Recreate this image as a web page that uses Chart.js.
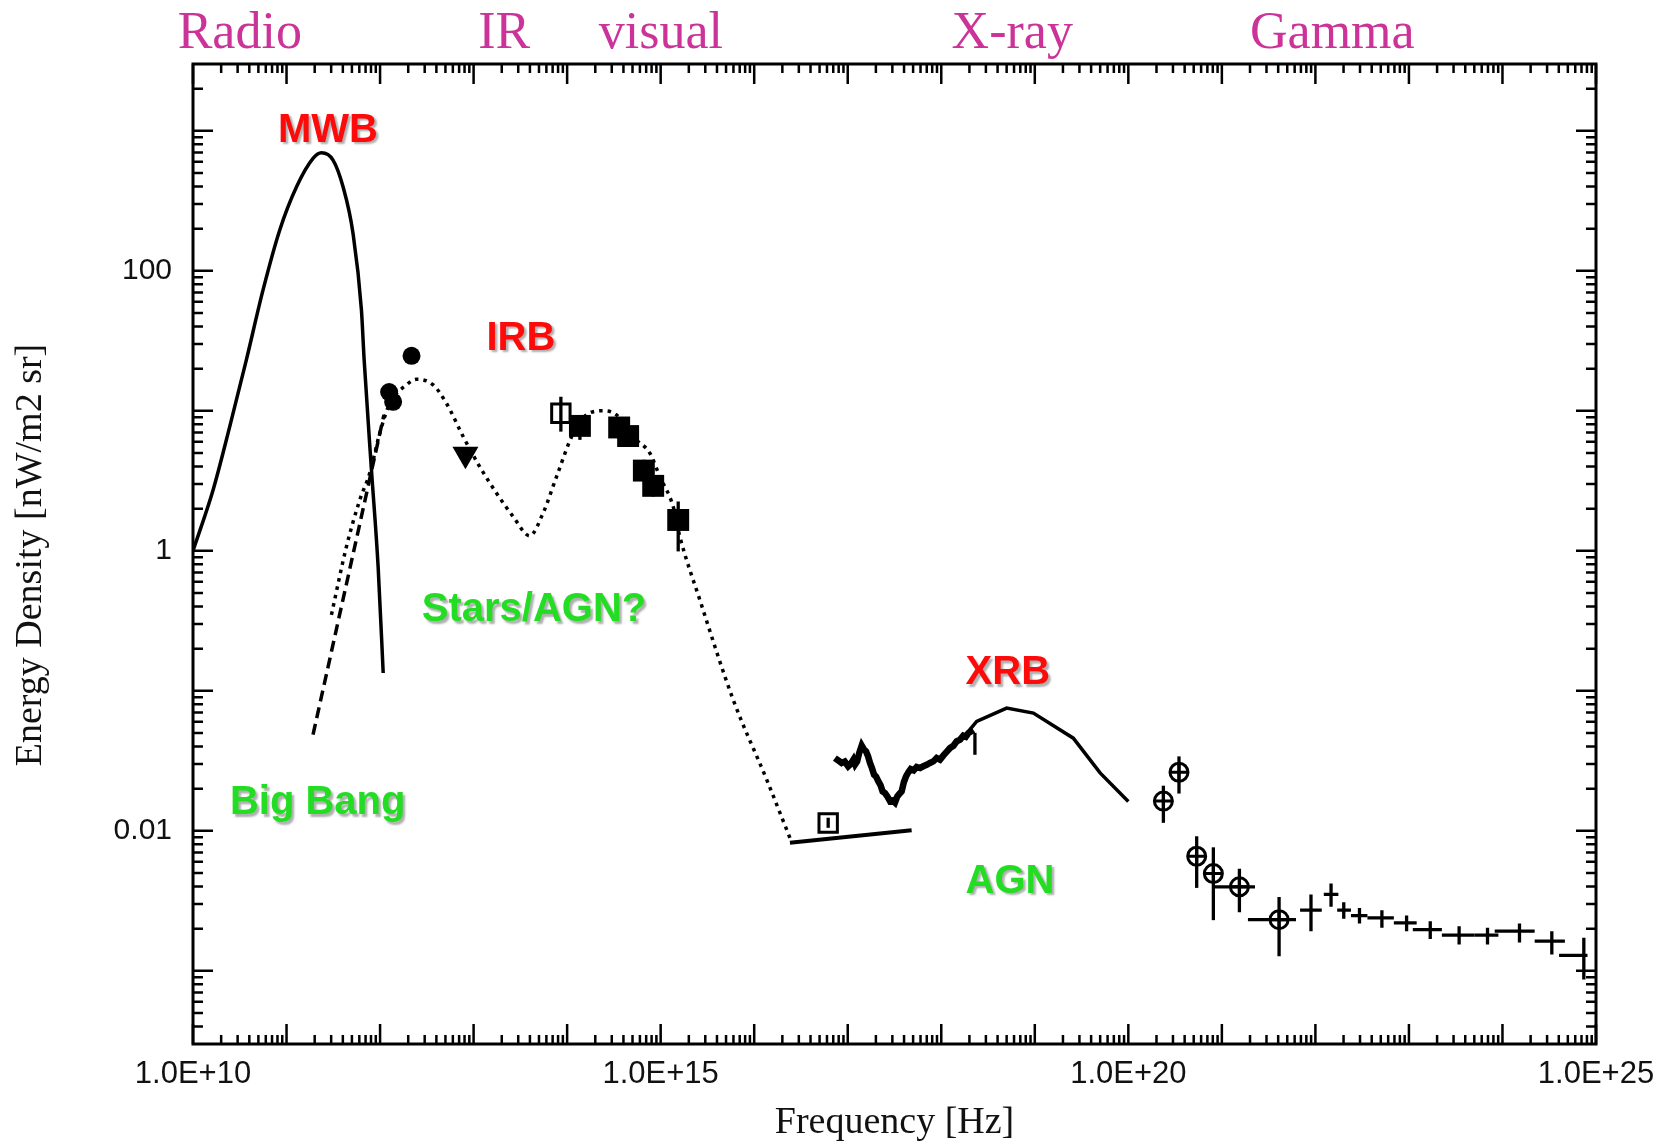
<!DOCTYPE html>
<html>
<head>
<meta charset="utf-8">
<title>Extragalactic background spectrum</title>
<script src="https://cdn.jsdelivr.net/npm/chart.js@4.4.1/dist/chart.umd.min.js"></script>
<style>
  html, body { margin: 0; padding: 0; background: #fff; }
  #wrap { width: 1671px; height: 1144px; position: relative; }
</style>
</head>
<body>
<div id="wrap"><canvas id="sed"></canvas></div>
<script>
// Frequencies in Hz, energy densities in nW / m^2 / sr.

// Microwave background (MWB)
const mwbFreq = [1.0e10, 1.64e10, 2.47e10, 3.72e10, 5.61e10, 8.45e10, 1.28e11, 1.92e11, 2.36e11, 3.14e11, 4.02e11, 5.14e11, 6.32e11, 6.76e11, 8.09e11, 9.53e11, 1.08e12];
const mwbE    = [1.0, 2.72, 7.7, 23.1, 73, 195, 398, 635, 697, 618, 398, 185, 52.5, 23, 3.78, 0.773, 0.134];

// Big Bang extrapolation (dashed)
const bigBangFreq = [1.92e11, 1.10e12];
const bigBangE    = [0.0486, 9.35];

// Infrared / optical background model (dotted)
const irbModelFreq = [3.02e11, 4.37e11, 6.07e11, 7.76e11, 9.93e11, 1.27e12, 1.91e12, 2.45e12, 3.69e12, 5.13e12, 7.73e12, 1.16e13, 1.76e13, 2.64e13, 3.99e13, 5.53e13, 7.71e13, 1.16e14, 1.61e14, 2.43e14, 3.37e14, 5.08e14, 7.66e14, 9.79e14, 1.36e15, 1.60e15, 2.62e15, 5.96e15, 1.36e16, 2.41e16];
const irbModelE    = [0.349, 1.07, 2.31, 3.59, 6.92, 11.3, 15.3, 16.8, 15.3, 11.3, 6.55, 4.0, 2.58, 1.76, 1.28, 1.86, 3.39, 6.9, 9.35, 10.0, 9.35, 6.5, 4.98, 3.39, 2.07, 1.27, 0.447, 0.0863, 0.0232, 0.00889];

// Far-infrared measurements (filled circles)
const firFreq = [1.25e12, 1.38e12, 2.17e12];
const firE    = [13.6, 11.6, 24.7];

// Upper limit (triangle)
const limitFreq = [8.18e12];
const limitE    = [4.9];

// Open squares with error bars
const openSqFreq = [8.57e13, 6.18e16];
const openSqE    = [9.6, 0.01138];
const openSqLo   = [7.1, 0.0105];
const openSqHi   = [12.6, 0.0124];

// Near-infrared / optical measurements (filled squares)
const nirFreq = [1.37e14, 3.6e14, 4.49e14, 6.61e14, 8.32e14, 1.54e15];
const nirE    = [7.8, 7.6, 6.6, 3.74, 2.91, 1.66];
const nirLo   = [6.2, 7.6, 6.6, 3.13, 2.44, 0.99];
const nirHi   = [9.1, 7.6, 6.6, 4.47, 3.39, 2.25];

// AGN contribution in the UV (solid segment)
const agnFreq = [2.41e16, 4.82e17];
const agnE    = [0.0082, 0.0101];

// Soft X-ray background data
const sxrFreq = [7.29e16, 7.9e16, 8.61e16, 9.3e16, 1.01e17, 1.08e17, 1.15e17, 1.20e17, 1.26e17, 1.33e17, 1.41e17, 1.49e17, 1.57e17, 1.65e17, 1.73e17, 1.82e17, 1.91e17, 2.01e17, 2.12e17, 2.24e17, 2.36e17, 2.50e17, 2.65e17, 2.83e17, 3.02e17, 3.20e17, 3.39e17, 3.58e17, 3.77e17, 3.98e17, 4.20e17, 4.45e17, 4.71e17, 5.07e17, 5.46e17, 5.94e17, 6.43e17, 6.98e17, 7.57e17, 8.22e17, 8.93e17, 9.70e17, 1.05e18, 1.14e18, 1.24e18, 1.35e18, 1.46e18, 1.59e18, 1.72e18, 1.83e18, 1.95e18, 2.07e18, 2.20e18];
const sxrE    = [0.0331, 0.0318, 0.0305, 0.0312, 0.0289, 0.0301, 0.0322, 0.0298, 0.0313, 0.0362, 0.0406, 0.0381, 0.0369, 0.0340, 0.0305, 0.0279, 0.0252, 0.0244, 0.0226, 0.0212, 0.0191, 0.0186, 0.0176, 0.0163, 0.0165, 0.0159, 0.0176, 0.0184, 0.0191, 0.0222, 0.0245, 0.0262, 0.0276, 0.0270, 0.0286, 0.0281, 0.0289, 0.0296, 0.0305, 0.0313, 0.0331, 0.0322, 0.0344, 0.0366, 0.0390, 0.0405, 0.0435, 0.0448, 0.0478, 0.0470, 0.0499, 0.0512, 0.0527];
const sxrBarFreq = [2.29e18];
const sxrBarE    = [0.0501];
const sxrBarLo   = [0.0349];
const sxrBarHi   = [0.0501];

// X-ray background spectrum (XRB)
const xrbFreq = [1.95e18, 2.39e18, 5.0e18, 9.66e18, 2.58e19, 4.99e19, 1.0e20];
const xrbE    = [0.0513, 0.0604, 0.0753, 0.0693, 0.0459, 0.0259, 0.0162];

// MeV gamma rays (circled points)
const mevFreq   = [2.37e20, 3.48e20, 5.38e20, 8.11e20, 1.54e21, 4.09e21];
const mevE      = [0.0163, 0.0262, 0.00658, 0.00495, 0.00398, 0.00232];
const mevLo     = [0.0114, 0.01845, 0.00391, 0.00230, 0.00262, 0.00127];
const mevHi     = [0.0210, 0.0340, 0.00914, 0.00762, 0.00535, 0.00337];
const mevFreqLo = [2.37e20, 3.48e20, 5.38e20, 8.11e20, 8.1e20, 1.9e21];
const mevFreqHi = [2.37e20, 3.48e20, 5.38e20, 8.11e20, 2.26e21, 6.2e21];

// GeV gamma rays (crosses)
const gevFreq   = [8.97e21, 1.47e22, 2.01e22, 2.96e22, 5.14e22, 9.44e22, 1.69e23, 3.44e23, 6.92e23, 1.52e24, 3.37e24, 7.41e24];
const gevE      = [0.00271, 0.00351, 0.00271, 0.00248, 0.00239, 0.00220, 0.00197, 0.00180, 0.00180, 0.00192, 0.00163, 0.00129];
const gevLo     = [0.00192, 0.00287, 0.00235, 0.00218, 0.00203, 0.00192, 0.00169, 0.00154, 0.00154, 0.00159, 0.00131, 0.000867];
const gevHi     = [0.00351, 0.00421, 0.00309, 0.00281, 0.00271, 0.00248, 0.00226, 0.00208, 0.00203, 0.00218, 0.00192, 0.00172];
const gevFreqLo = [6.86e21, 1.23e22, 1.71e22, 2.40e22, 3.6e22, 6.9e22, 1.10e23, 2.25e23, 5.05e23, 8.26e23, 2.21e24, 4.03e24];
const gevFreqHi = [1.17e22, 1.76e22, 2.40e22, 3.60e22, 6.9e22, 1.21e23, 2.25e23, 5.05e23, 9.04e23, 2.21e24, 4.65e24, 8.11e24];

// Axis ranges and labelled ticks
const freqMin = 1e10, freqMax = 1e25;
const energyMin = 3e-4, energyMax = 3000;
const freqTickLabels = [1e10, 1e15, 1e20, 1e25];
const energyTickLabels = [0.01, 1, 100];

// Spectral band names above the frame, anchored at their left edge
const bandNames = ['Radio', 'IR', 'visual', 'X-ray', 'Gamma'];
const bandFreq  = [6.86e9, 1.12e13, 2.18e14, 1.29e18, 2.0e21];

// Background component names (red) and source names (green)
const componentNames = ['MWB', 'IRB', 'XRB'];
const componentFreq  = [8.11e10, 1.37e13, 1.82e18];
const componentE     = [834, 27.2, 0.111];
const sourceNames = ['Big Bang', 'Stars/AGN?', 'AGN'];
const sourceFreq  = [2.48e10, 2.79e12, 1.82e18];
const sourceE     = [0.0131, 0.313, 0.00361];

// ---------------------------------------------------------------------------
const pairs = (xs, ys) => xs.map((v, i) => ({ x: v, y: ys[i] }));
const ranges = (lo, hi) => lo.map((v, i) => [v, hi[i]]);
const SANS = "'Liberation Sans', Arial, Helvetica, sans-serif";
const SERIF = "'Liberation Serif', 'Times New Roman', Times, serif";
const INK = '#000';

const lineStyle = { showLine: true, pointRadius: 0, pointHoverRadius: 0, borderColor: INK, backgroundColor: INK, fill: false };

const datasets = [
  { label: 'MWB', data: pairs(mwbFreq, mwbE), ...lineStyle, borderWidth: 3.5, cubicInterpolationMode: 'monotone' },
  { label: 'Big Bang', data: pairs(bigBangFreq, bigBangE), ...lineStyle, borderWidth: 3.5, borderDash: [11, 6] },
  { label: 'IRB model', data: pairs(irbModelFreq, irbModelE), ...lineStyle, borderWidth: 3.5, borderDash: [3.5, 5], cubicInterpolationMode: 'monotone' },
  { label: 'FIR', data: pairs(firFreq, firE), pointStyle: 'circle', pointRadius: 9, pointHoverRadius: 9, backgroundColor: INK, borderColor: INK, borderWidth: 0 },
  { label: 'limit', data: pairs(limitFreq, limitE), pointStyle: 'triangle', rotation: 180, pointRadius: 15, pointHoverRadius: 15, backgroundColor: INK, borderColor: INK, borderWidth: 0 },
  { label: 'open', data: pairs(openSqFreq, openSqE), pointStyle: 'rect', pointRadius: 13, pointHoverRadius: 13, backgroundColor: 'rgba(0,0,0,0)', borderColor: INK, borderWidth: 3, yErr: ranges(openSqLo, openSqHi) },
  { label: 'NIR', data: pairs(nirFreq, nirE), pointStyle: 'rect', pointRadius: 15.5, pointHoverRadius: 15.5, backgroundColor: INK, borderColor: INK, borderWidth: 0, yErr: ranges(nirLo, nirHi) },
  { label: 'AGN', data: pairs(agnFreq, agnE), ...lineStyle, borderWidth: 4 },
  { label: 'soft X', data: pairs(sxrFreq, sxrE), ...lineStyle, borderWidth: 6.5, borderJoinStyle: 'miter' },
  { label: 'soft X edge', data: pairs(sxrBarFreq, sxrBarE), pointRadius: 0, pointHoverRadius: 0, yErr: ranges(sxrBarLo, sxrBarHi) },
  { label: 'XRB', data: pairs(xrbFreq, xrbE), ...lineStyle, borderWidth: 3.5 },
  { label: 'MeV', data: pairs(mevFreq, mevE), pointStyle: 'circle', pointRadius: 9, pointHoverRadius: 9, backgroundColor: 'rgba(0,0,0,0)', borderColor: INK, borderWidth: 3, yErr: ranges(mevLo, mevHi), xErr: ranges(mevFreqLo, mevFreqHi) },
  { label: 'MeV cross', data: pairs(mevFreq, mevE), pointStyle: 'cross', pointRadius: 9, pointHoverRadius: 9, borderColor: INK, borderWidth: 3 },
  { label: 'GeV', data: pairs(gevFreq, gevE), pointRadius: 0, pointHoverRadius: 0, yErr: ranges(gevLo, gevHi), xErr: ranges(gevFreqLo, gevFreqHi) }
];

// Error bars for datasets that carry yErr / xErr ranges
const errorBars = {
  id: 'errorBars',
  afterDatasetsDraw(chart) {
    const { ctx, chartArea: a, scales: { x, y } } = chart;
    ctx.save();
    ctx.beginPath();
    ctx.rect(a.left, a.top, a.width, a.height);
    ctx.clip();
    ctx.strokeStyle = INK;
    ctx.lineWidth = 3.3;
    ctx.lineCap = 'butt';
    chart.data.datasets.forEach((ds, i) => {
      const meta = chart.getDatasetMeta(i);
      meta.data.forEach((pt, j) => {
        ctx.beginPath();
        if (ds.yErr) {
          const [lo, hi] = ds.yErr[j];
          ctx.moveTo(pt.x, y.getPixelForValue(lo));
          ctx.lineTo(pt.x, y.getPixelForValue(hi));
        }
        if (ds.xErr) {
          const [lo, hi] = ds.xErr[j];
          if (lo !== hi) {
            ctx.moveTo(x.getPixelForValue(lo), pt.y);
            ctx.lineTo(x.getPixelForValue(hi), pt.y);
          }
        }
        ctx.stroke();
      });
    });
    ctx.restore();
  }
};

// Frame, inward tick marks on all four sides, labels and axis titles
const frameAndText = {
  id: 'frameAndText',
  afterDraw(chart) {
    const { ctx, chartArea: a, scales: { x, y } } = chart;
    const MAJOR = 20, MINOR_X = 9, MINOR_Y = 10;
    ctx.save();
    ctx.strokeStyle = INK;
    ctx.lineWidth = 2.5;
    ctx.beginPath();
    for (let d = Math.round(Math.log10(freqMin)); d <= Math.round(Math.log10(freqMax)); d++) {
      for (let m = 1; m <= 9; m++) {
        const v = m * Math.pow(10, d);
        if (v > freqMax * 1.0001) break;
        const px = x.getPixelForValue(v);
        const len = m === 1 ? MAJOR : MINOR_X;
        ctx.moveTo(px, a.bottom); ctx.lineTo(px, a.bottom - len);
        ctx.moveTo(px, a.top); ctx.lineTo(px, a.top + len);
      }
    }
    for (let d = -4; d <= 3; d++) {
      for (let m = 1; m <= 9; m++) {
        const v = m * Math.pow(10, d);
        if (v < energyMin * 1.0001 || v > energyMax * 0.9999) continue;
        const py = y.getPixelForValue(v);
        const len = m === 1 ? MAJOR : MINOR_Y;
        ctx.moveTo(a.left, py); ctx.lineTo(a.left + len, py);
        ctx.moveTo(a.right, py); ctx.lineTo(a.right - len, py);
      }
    }
    ctx.stroke();
    ctx.lineWidth = 3;
    ctx.strokeRect(a.left, a.top, a.width, a.height);

    // axis titles
    ctx.fillStyle = '#111';
    ctx.font = `38px ${SERIF}`;
    ctx.textAlign = 'center';
    ctx.textBaseline = 'alphabetic';
    ctx.fillText('Frequency [Hz]', (a.left + a.right) / 2, 1133);
    ctx.save();
    ctx.translate(41, 555);
    ctx.rotate(-Math.PI / 2);
    ctx.fillText('Energy Density [nW/m2 sr]', 0, 0);
    ctx.restore();

    // band names above the frame
    ctx.textAlign = 'left';
    ctx.fillStyle = '#cc3399';
    ctx.font = `52px ${SERIF}`;
    bandNames.forEach((t, i) => ctx.fillText(t, x.getPixelForValue(bandFreq[i]), a.top - 16));

    // component and source names
    const shadowed = (names, fs, es, color) => {
      ctx.save();
      ctx.font = `bold 40px ${SANS}`;
      ctx.fillStyle = color;
      ctx.shadowColor = 'rgba(110,110,110,0.55)';
      ctx.shadowOffsetX = 2.5;
      ctx.shadowOffsetY = 2.5;
      ctx.shadowBlur = 2;
      names.forEach((t, i) => ctx.fillText(t, x.getPixelForValue(fs[i]), y.getPixelForValue(es[i])));
      ctx.restore();
    };
    shadowed(componentNames, componentFreq, componentE, '#ff0a0a');
    shadowed(sourceNames, sourceFreq, sourceE, '#22dd22');
    ctx.restore();
  }
};

new Chart(document.getElementById('sed'), {
  type: 'scatter',
  data: { datasets },
  options: {
    responsive: true,
    maintainAspectRatio: false,
    animation: false,
    events: [],
    layout: { padding: { left: 0, top: 64, right: 75, bottom: 0 } },
    plugins: { legend: { display: false }, tooltip: { enabled: false } },
    scales: {
      x: {
        type: 'logarithmic', min: freqMin, max: freqMax, position: 'bottom',
        grid: { display: false, drawTicks: false }, border: { display: false },
        afterBuildTicks: s => { s.ticks = freqTickLabels.map(v => ({ value: v })); },
        afterFit: s => { s.height = 100; },
        ticks: {
          autoSkip: false, maxRotation: 0, minRotation: 0, padding: 12, color: '#111',
          font: { family: SANS, size: 31 },
          callback: v => '1.0E+' + Math.round(Math.log10(v))
        }
      },
      y: {
        type: 'logarithmic', min: energyMin, max: energyMax, position: 'left',
        grid: { display: false, drawTicks: false }, border: { display: false },
        afterBuildTicks: s => { s.ticks = energyTickLabels.map(v => ({ value: v })); },
        afterFit: s => { s.width = 193; },
        ticks: {
          autoSkip: false, padding: 21, color: '#111',
          font: { family: SANS, size: 30 },
          callback: v => String(v)
        }
      }
    }
  },
  plugins: [errorBars, frameAndText]
});
</script>
</body>
</html>
